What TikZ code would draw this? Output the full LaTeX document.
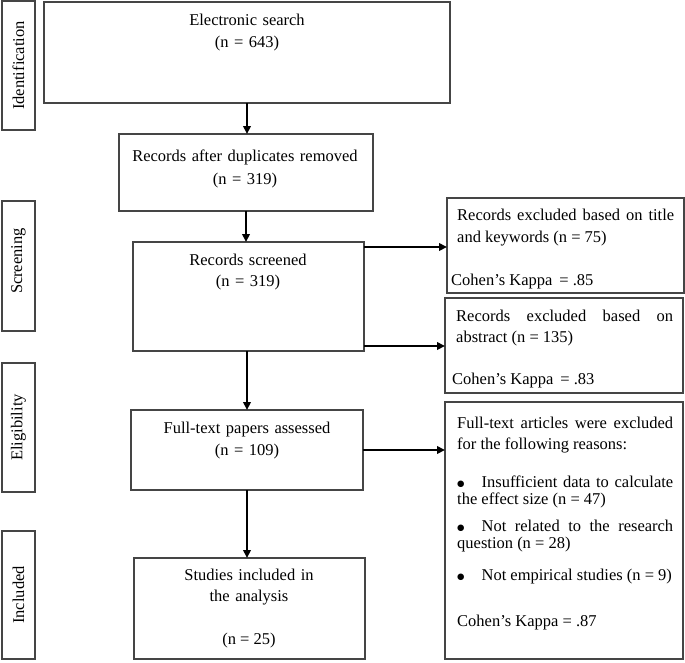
\documentclass[tikz,border=0pt]{standalone}
\usepackage{fontspec}
\setmainfont{Liberation Serif}
\newfontfamily\dejavu{DejaVu Sans}
\usetikzlibrary{arrows.meta}
\hyphenpenalty=10000
\exhyphenpenalty=10000
\tolerance=10000
\definecolor{boxgray}{HTML}{454545}
\newcommand{\bigbul}{\raisebox{1pt}{\dejavu\fontsize{8.5}{10}\selectfont ●}}
\begin{document}
\begin{tikzpicture}[x=1pt,y=-1pt,
  box/.style={draw=boxgray, line width=1.2pt, inner sep=0pt, outer sep=0pt},
  arr/.style={draw=black, line width=2pt, -{Triangle[length=8pt,width=7.5pt]}},
  txt/.style={inner sep=0pt, font=\fontsize{16.5}{22}\selectfont},
  ctxt/.style={txt, align=center, anchor=base},
  jtxt/.style={txt, text width=217pt, align=justify, anchor=base west},
  side/.style={inner sep=0pt, font=\fontsize{16.5}{20}\selectfont, rotate=90}
]
\useasboundingbox (0,0) rectangle (685,662);

% stage labels
\node[box, minimum width=33pt, minimum height=129pt] (ident) at (18.5,65.5) {};
\node[box, minimum width=33pt, minimum height=130pt] (screen) at (18.5,266) {};
\node[box, minimum width=33pt, minimum height=129pt] (elig) at (18.5,427.5) {};
\node[box, minimum width=33pt, minimum height=128pt] (incl) at (18.5,595) {};
\node[side] (identL) at (ident.center) {Identification};
\node[side] (screenL) at ([yshift=5pt]screen.center) {Screening};
\node[side] (eligL) at (elig.center) {Eligibility};
\node[side] (inclL) at (incl.center) {Included};

% main column boxes
\node[box, minimum width=406pt, minimum height=101pt] (search) at (247,52.5) {};
\node[box, minimum width=254pt, minimum height=77pt] (dup) at (246,172.5) {};
\node[box, minimum width=231pt, minimum height=109pt] (screened) at (248.5,296.5) {};
\node[box, minimum width=232pt, minimum height=80pt] (full) at (247,450) {};
\node[box, minimum width=231pt, minimum height=101pt] (studies) at (249.5,608.5) {};

% exclusion boxes
\node[box, minimum width=237pt, minimum height=95pt] (ex1) at (565.5,245.5) {};
\node[box, minimum width=238pt, minimum height=95pt] (ex2) at (564,345.5) {};
\node[box, minimum width=238pt, minimum height=257pt] (ex3) at (564,530.5) {};

% main column texts
\node[ctxt, text width=300pt, font=\fontsize{16.5}{22}\selectfont] (searchT) at (247,25.5) {Electronic search\\(n = 643)};
\node[ctxt, text width=250pt, font=\fontsize{16.5}{23}\selectfont] (dupT) at (245,161) {Records after duplicates removed\\(n = 319)};
\node[ctxt, text width=220pt, font=\fontsize{16.5}{20.5}\selectfont] (screenedT) at (248,265.5) {Records screened\\(n = 319)};
\node[ctxt, text width=220pt, font=\fontsize{16.5}{22}\selectfont] (fullT) at (247,433) {Full-text papers assessed\\(n = 109)};
\node[ctxt, text width=220pt, font=\fontsize{16.5}{20.5}\selectfont] (studiesT) at (249,580.5) {Studies included in\\the analysis};
\node[ctxt] (studiesN) at (249,644) {(n = 25)};

% exclusion texts
\node[jtxt, font=\fontsize{16.5}{21.5}\selectfont] (ex1T) at (457,220.5) {Records excluded based on title and keywords (n = 75)};
\node[txt, anchor=base west] (ex1K) at (451,285.5) {Cohen’s Kappa \,= .85};
\node[jtxt, font=\fontsize{16.5}{20.5}\selectfont] (ex2T) at (456,321.5) {Records excluded based on abstract (n = 135)};
\node[txt, anchor=base west] (ex2K) at (452,384.5) {Cohen’s Kappa \,= .83};
\node[jtxt, text width=216pt, font=\fontsize{16.5}{21.5}\selectfont] (ex3T) at (457,428) {Full-text articles were excluded for the following reasons:};
\node[jtxt, text width=216pt, font=\fontsize{16.5}{17}\selectfont] (ex3B1) at (457,487) {\bigbul\hspace*{17pt}Insufficient data to calculate the effect size (n = 47)};
\node[jtxt, text width=216pt, font=\fontsize{16.5}{17}\selectfont] (ex3B2) at (457,531) {\bigbul\hspace*{17pt}Not related to the research question (n = 28)};
\node[jtxt, text width=216pt, font=\fontsize{16.5}{17}\selectfont] (ex3B3) at (457,580) {\bigbul\hspace*{17pt}Not empirical studies (n = 9)};
\node[txt, anchor=base west] (ex3K) at (457,626) {Cohen’s Kappa = .87};

% connectors
\draw[arr] (search.south) -- (search.south |- dup.north);
\draw[arr] (dup.south) -- (dup.south |- screened.north);
\draw[arr] (full.north |- screened.south) -- (full.north);
\draw[arr] (full.south) -- (full.south |- studies.north);
\path (screened.north east) ++(0,5) coordinate (s1);
\path (screened.south east) ++(0,-5) coordinate (s2);
\draw[arr] (s1) -- (s1 -| ex1.west);
\draw[arr] (s2) -- (s2 -| ex2.west);
\draw[arr] (full.east) -- (full.east -| ex3.west);
\end{tikzpicture}
\end{document}
